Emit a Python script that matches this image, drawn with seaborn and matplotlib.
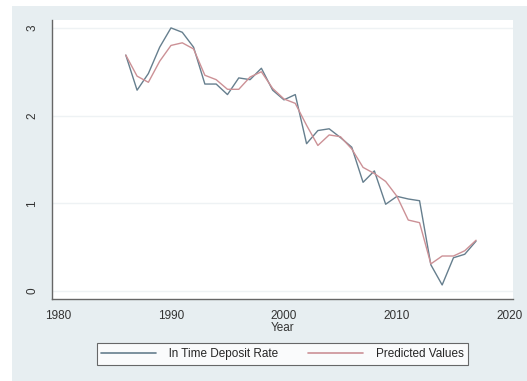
import numpy as np
import pandas as pd
import matplotlib
matplotlib.use("Agg")
import matplotlib.pyplot as plt
import seaborn as sns
from matplotlib.patches import Rectangle
from matplotlib.lines import Line2D

years = list(range(1986, 2018))
actual = [2.69, 2.29, 2.48, 2.78, 3.00, 2.95, 2.78, 2.36, 2.36, 2.24,
          2.43, 2.41, 2.54, 2.29, 2.18, 2.24, 1.68, 1.83, 1.85, 1.75,
          1.64, 1.24, 1.37, 0.99, 1.08, 1.05, 1.03, 0.30, 0.07, 0.38,
          0.42, 0.57]
predicted = [2.69, 2.45, 2.38, 2.62, 2.80, 2.83, 2.76, 2.46, 2.41, 2.30,
             2.30, 2.44, 2.50, 2.31, 2.19, 2.14, 1.89, 1.66, 1.78, 1.76,
             1.62, 1.41, 1.34, 1.25, 1.08, 0.81, 0.78, 0.31, 0.40, 0.40,
             0.46, 0.58]
series_names = ["ln Time Deposit Rate", "Predicted Values"]
xticks = [1980, 1990, 2000, 2010, 2020]
yticks = [0, 1, 2, 3]

df = pd.DataFrame({
    "Year": years * 2,
    "value": actual + predicted,
    "series": [series_names[0]] * len(years) + [series_names[1]] * len(years),
})

sns.set_theme(style="white")
plt.rcParams['font.family'] = ['Liberation Sans', 'DejaVu Sans']

W, H = 527, 381
fig = plt.figure(figsize=(W / 100, H / 100), dpi=100)
fig.patch.set_facecolor("white")
bg = Rectangle((12 / W, 0), 1 - 12 / W, 1 - 6 / H, transform=fig.transFigure,
               facecolor="#e7eef1", edgecolor="none", zorder=-10)
fig.patches.append(bg)

ax = fig.add_axes([52 / W, 1 - 299 / H, (513 - 52) / W, (299 - 20) / H])
ax.set_facecolor("white")

palette = {series_names[0]: "#667f8e", series_names[1]: "#cc9196"}
sns.lineplot(data=df, x="Year", y="value", hue="series", palette=palette,
             linewidth=1.0, ax=ax, legend=False)

ax.set_xlim(1979.47, 2020.27)
ax.set_ylim(-0.09, 3.09)
ax.set_xticks(xticks)
ax.set_yticks(yticks)
ax.set_xticklabels([str(t) for t in xticks], fontsize=8.5, color="#333333")
ax.set_yticklabels([str(t) for t in yticks], fontsize=8.5, color="#333333",
                   rotation=90, va="center")
ax.set_xlabel("Year", fontsize=8.5, color="#333333", labelpad=0)
ax.set_ylabel("")
ax.grid(axis="y", color="#eef2f4", linewidth=1.0)
ax.tick_params(axis="both", direction="out", length=4, width=0.8,
               color="#777777", pad=4)
ax.tick_params(axis="y", pad=6)
for s in ["top", "right"]:
    ax.spines[s].set_visible(False)
for s in ["left", "bottom"]:
    ax.spines[s].set_color("#666666")
    ax.spines[s].set_linewidth(1.0)

handles = [Line2D([], [], color=palette[n], linewidth=1.2) for n in series_names]
leg = fig.legend(handles, series_names, loc="center",
                 bbox_to_anchor=(282.5 / W, 1 - 354 / H), ncol=2,
                 fontsize=8.5, frameon=True, fancybox=False,
                 handlelength=4.6, columnspacing=2.6, handletextpad=1.1,
                 borderpad=0.4)
leg.get_frame().set_edgecolor("#444444")
leg.get_frame().set_linewidth(0.8)
leg.get_frame().set_facecolor("white")

fig.savefig("out.png", dpi=100, facecolor=fig.get_facecolor())
